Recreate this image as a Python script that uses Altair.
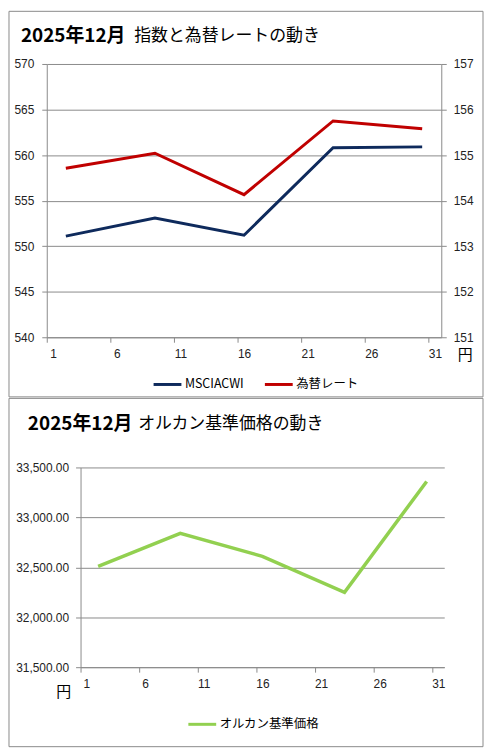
import altair as alt
import pandas as pd

# ---- data ----
days = [2, 9, 16, 23, 30]
msci = [551.1, 553.1, 551.2, 560.8, 560.9]
fx_rate = [154.71, 155.04, 154.13, 155.75, 155.58]
orukan = [32510, 32840, 32610, 32250, 33360]

x_ticks = [1, 6, 11, 16, 21, 26, 31]
left_ticks = [540, 545, 550, 555, 560, 565, 570]
right_ticks = [151, 152, 153, 154, 155, 156, 157]
bottom_ticks = [31500, 32000, 32500, 33000, 33500]

series_top = ["MSCIACWI", "為替レート"]
series_bottom = ["オルカン基準価格"]
title_year = "2025年12月"
title_top = "指数と為替レートの動き"
title_bottom = "オルカン基準価格の動き"
unit = "円"

# ---- style ----
NAVY = "#0e2a5c"
RED = "#c00000"
GREEN = "#92d050"
GRID = "#8a8a8a"
BORDER = "#8a8a8a"
JP = "Noto Sans CJK JP"
NUM = "Liberation Sans"
TOP_W, TOP_H = 397, 275
BOT_SHIFT = 34          # bottom plot starts 34px right of the top plot
BOT_W, BOT_H = 400, 201

one = pd.DataFrame({"k": [0]})

df_top = pd.DataFrame({"day": days, "msci": msci, "fx": fx_rate})
df_top["s1"] = series_top[0]
df_top["s2"] = series_top[1]
df_bot = pd.DataFrame({"day": days, "nav": orukan})
df_bot["s"] = series_bottom[0]


def txt(x, y, s, size, weight="normal", font=JP, align="left"):
    return alt.Chart(one).mark_text(
        text=s, font=font, fontSize=size, fontWeight=weight, align=align,
        baseline="middle", color="#000"
    ).encode(x=alt.value(x), y=alt.value(y))


def box(x1, x2, y1, y2):
    return alt.Chart(one).mark_rect(
        fill="transparent", stroke=BORDER, strokeWidth=1
    ).encode(x=alt.value(x1), x2=alt.value(x2), y=alt.value(y1), y2=alt.value(y2))


def xaxis(dx):
    return alt.Axis(
        values=x_ticks, grid=False, title=None, domainColor=GRID, tickColor=GRID,
        tickSize=5, labelPadding=6, labelOffset=dx, labelFlush=False, labelOverlap=False,
        labelFont=NUM, labelFontSize=12, labelColor="#222", format="d"
    )


def legend(x, y, size):
    return alt.Legend(
        orient="none", legendX=x, legendY=y, direction="horizontal", title=None,
        symbolType="stroke", symbolSize=784, symbolStrokeWidth=3,
        labelFont=JP, labelFontSize=size, labelColor="#000", labelOffset=2,
        columnPadding=14
    )


xs_top = alt.X("pos:Q", scale=alt.Scale(domain=[1, 32], nice=False, zero=False), axis=xaxis(6.4))
color_top = alt.Color(
    "series:N",
    scale=alt.Scale(domain=series_top, range=[NAVY, RED]),
    legend=legend(106, 307, 12.5),
)

base_top = alt.Chart(df_top).transform_calculate(pos="datum.day + 0.5")

line_msci = base_top.transform_calculate(series="datum.s1").mark_line(strokeWidth=3).encode(
    x=xs_top,
    y=alt.Y("msci:Q", scale=alt.Scale(domain=[540, 570], nice=False, zero=False),
            axis=alt.Axis(values=left_ticks, orient="left", grid=True, gridColor=GRID,
                          domainColor=GRID, tickColor=GRID, tickSize=5, labelPadding=8,
                          labelFont=NUM, labelFontSize=12, labelColor="#222",
                          format="d", title=None)),
    color=color_top,
)
line_fx = base_top.transform_calculate(series="datum.s2").mark_line(strokeWidth=3).encode(
    x=xs_top,
    y=alt.Y("fx:Q", scale=alt.Scale(domain=[151, 157], nice=False, zero=False),
            axis=alt.Axis(values=right_ticks, orient="right", grid=False,
                          domainColor=GRID, tickColor=GRID, tickSize=5, labelPadding=7,
                          labelFont=NUM, labelFontSize=12, labelColor="#222",
                          format="d", title=None)),
    color=color_top,
)

top = alt.layer(
    box(-38, TOP_W + 42, -53, TOP_H + 60),
    line_msci,
    line_fx,
    txt(-26, -28, title_year, 19, "bold"),
    txt(88, -28, title_top, 17),
    txt(421, 293, unit, 15, align="center"),
).resolve_scale(y="independent").properties(width=TOP_W, height=TOP_H)

xs_bot = alt.X("pos:Q", scale=alt.Scale(domain=[1, 32], nice=False, zero=False,
                                       range=[BOT_SHIFT, BOT_W]), axis=xaxis(5.9))
line_nav = alt.Chart(df_bot).transform_calculate(pos="datum.day + 0.5").mark_line(
    strokeWidth=3.5).encode(
    x=xs_bot,
    y=alt.Y("nav:Q", scale=alt.Scale(domain=[31500, 33500], nice=False, zero=False),
            axis=alt.Axis(values=bottom_ticks, orient="left", grid=True, gridColor=GRID,
                          domainColor=GRID, tickColor=GRID, tickSize=5, labelPadding=7,
                          labelFont=NUM, labelFontSize=12, labelColor="#222",
                          offset=-BOT_SHIFT, format=",.2f", title=None)),
    color=alt.Color("s:N", scale=alt.Scale(domain=series_bottom, range=[GREEN]),
                    legend=legend(107 + BOT_SHIFT, 243, 12.5)),
)

bottom = alt.layer(
    box(-38, TOP_W + 42, -69.5, BOT_H + 80),
    line_nav,
    txt(-19, -44, title_year, 19, "bold"),
    txt(92, -44, title_bottom, 17),
    txt(17, 226, unit, 15, align="center"),
).properties(width=BOT_W, height=BOT_H)

chart = alt.vconcat(top, bottom, spacing=-1).resolve_scale(
    color="independent", x="independent", y="independent"
).resolve_legend(color="independent").properties(
    padding=0, background="white"
).configure_view(stroke="transparent")

chart.save("out.html", embed_options={"renderer": "svg", "actions": False})
